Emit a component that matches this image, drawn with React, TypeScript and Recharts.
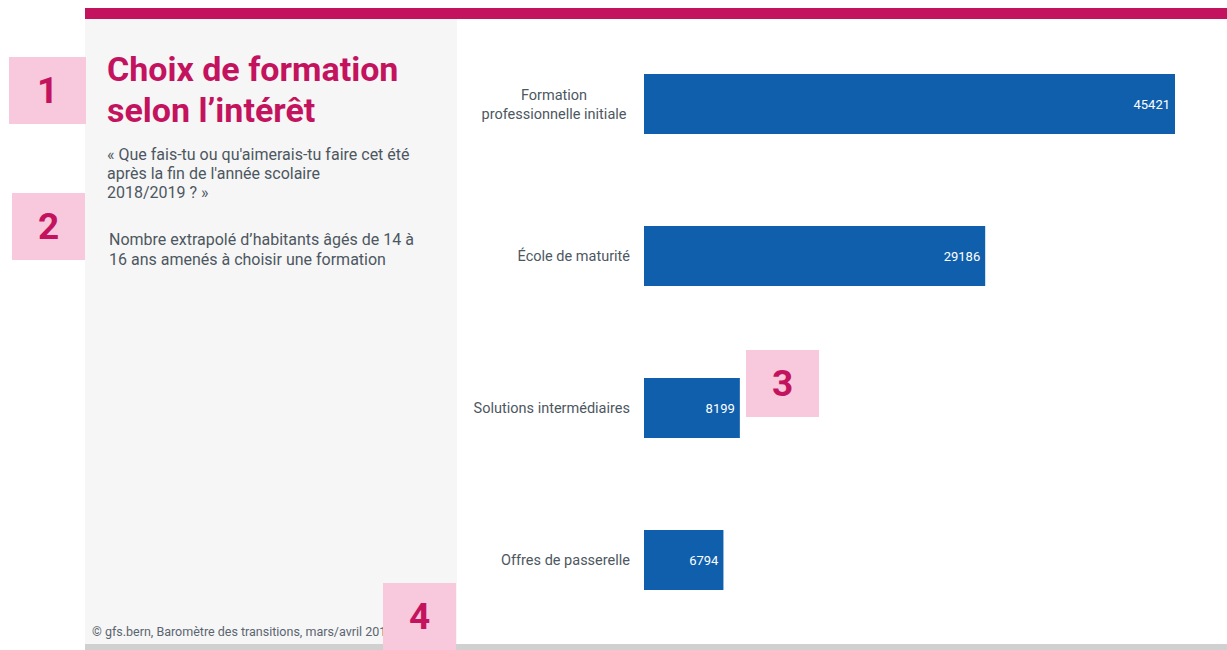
import React from "react";
import { BarChart, Bar, XAxis, YAxis, LabelList } from "recharts";

// values
const categories = [
  "Formation\nprofessionnelle initiale",
  "École de maturité",
  "Solutions intermédiaires",
  "Offres de passerelle",
];
const counts = [45421, 29186, 8199, 6794];

const data = categories.map((name, i) => ({ name, value: counts[i] }));

const MAGENTA = "#c4135e";
const PINK = "#f8c8dd";
const TEXT = "#4d5761";
const BLUE = "#0f5fad";
const FONT = "Roboto, 'Noto Sans', sans-serif";

function CategoryTick({ x, y, payload }: any) {
  const lines = String(payload.value).split("\n");
  const lh = 19;
  const multi = lines.length > 1;
  const tx = multi ? x - 76 : x;
  const y0 = y - ((lines.length - 1) * lh) / 2 + 5;
  return (
    <text
      x={tx}
      y={y0}
      textAnchor={multi ? "middle" : "end"}
      fill={TEXT}
      fontSize={14.5}
      fontFamily={FONT}
    >
      {lines.map((l, i) => (
        <tspan key={i} x={tx} y={y0 + i * lh}>
          {l}
        </tspan>
      ))}
    </text>
  );
}

function Marker({ n, left, top, width = 73 }: { n: number; left: number; top: number; width?: number }) {
  return (
    <div
      style={{
        position: "absolute",
        left,
        top,
        width,
        height: 67,
        background: PINK,
        color: MAGENTA,
        fontFamily: FONT,
        fontWeight: 700,
        fontSize: 37,
        display: "flex",
        alignItems: "center",
        justifyContent: "center",
      }}
    >
      {n}
    </div>
  );
}

export default function App() {
  return (
    <div
      style={{
        position: "absolute",
        left: 0,
        top: 0,
        width: 1227,
        height: 650,
        background: "#fff",
        overflow: "hidden",
        fontFamily: FONT,
      }}
    >
      {/* top band */}
      <div style={{ position: "absolute", left: 85, top: 8, width: 1142, height: 11, background: MAGENTA }} />
      {/* left panel */}
      <div style={{ position: "absolute", left: 85, top: 19, width: 372, height: 625, background: "#f6f6f6" }} />
      {/* bottom band */}
      <div style={{ position: "absolute", left: 85, top: 644, width: 1142, height: 6, background: "#d0d0d0" }} />

      <div
        style={{
          position: "absolute",
          left: 107,
          top: 49,
          color: MAGENTA,
          fontWeight: 700,
          fontSize: 34,
          lineHeight: "41px",
          whiteSpace: "nowrap",
        }}
      >
        Choix de formation
        <br />
        selon l’intérêt
      </div>

      <div
        style={{
          position: "absolute",
          left: 107,
          top: 145,
          color: TEXT,
          fontSize: 16,
          lineHeight: "19px",
          whiteSpace: "nowrap",
        }}
      >
        « Que fais-tu ou qu'aimerais-tu faire cet été
        <br />
        après la fin de l'année scolaire
        <br />
        2018/2019 ? »
      </div>

      <div
        style={{
          position: "absolute",
          left: 109,
          top: 230,
          color: TEXT,
          fontSize: 16,
          lineHeight: "20px",
          whiteSpace: "nowrap",
        }}
      >
        Nombre extrapolé d’habitants âgés de 14 à
        <br />
        16 ans amenés à choisir une formation
      </div>

      <div
        style={{
          position: "absolute",
          left: 92,
          top: 624,
          color: "#5a6570",
          fontSize: 12.5,
          whiteSpace: "nowrap",
        }}
      >
        © gfs.bern, Baromètre des transitions, mars/avril 2019
      </div>

      <div style={{ position: "absolute", left: 457, top: 0 }}>
        <BarChart
          width={770}
          height={650}
          data={data}
          layout="vertical"
          margin={{ top: 28, right: 52, bottom: 14, left: 0 }}
          barSize={60}
        >
          <XAxis type="number" hide domain={[0, "dataMax"]} />
          <YAxis
            type="category"
            dataKey="name"
            width={187}
            axisLine={false}
            tickLine={false}
            tickSize={0}
            tickMargin={14}
            tick={<CategoryTick />}
            interval={0}
          />
          <Bar dataKey="value" fill={BLUE} isAnimationActive={false}>
            <LabelList
              dataKey="value"
              position="insideRight"
              offset={5}
              fill="#fff"
              fontSize={13}
              fontFamily={FONT}
            />
          </Bar>
        </BarChart>
      </div>

      <Marker n={1} left={9} top={57} width={77} />
      <Marker n={2} left={12} top={193} />
      <Marker n={3} left={746} top={350} />
      <Marker n={4} left={383} top={583} />
    </div>
  );
}
